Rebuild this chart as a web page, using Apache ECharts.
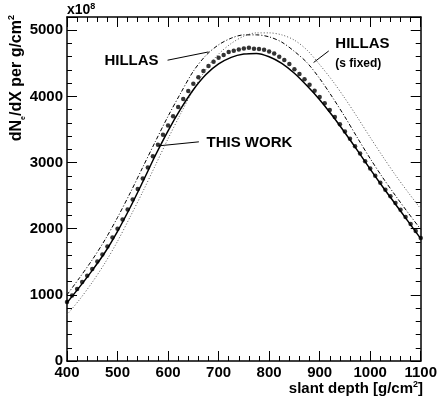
<!DOCTYPE html>
<html>
<head>
<meta charset="utf-8">
<script src="https://cdn.jsdelivr.net/npm/echarts@6/dist/echarts.min.js"></script>
<style>
html, body { margin: 0; padding: 0; background: #fff; }
#chart { width: 440px; height: 402px; }
</style>
</head>
<body>
<div id="chart"></div>
<script>
// slant depth [g/cm2] for the curves
var depths = [400, 425, 450, 475, 500, 525, 550, 575, 600, 625, 650, 675, 700, 725, 750,
	775, 800, 825, 850, 875, 900, 925, 950, 975, 1000, 1025, 1050, 1075, 1100];
// dN/dX in units of 1e8
var thisWork = [880, 1120, 1370, 1640, 1960, 2320, 2710, 3110, 3480, 3810, 4100, 4330, 4490, 4590, 4640,
	4650, 4600, 4500, 4350, 4160, 3950, 3710, 3450, 3180, 2900, 2630, 2370, 2110, 1850];
var hillas = [1000, 1260, 1530, 1830, 2170, 2540, 2930, 3320, 3700, 4050, 4380, 4620, 4780, 4880, 4930,
	4930, 4900, 4820, 4680, 4510, 4270, 3990, 3690, 3370, 3060, 2770, 2500, 2240, 1990];
var hillasFixed = [700, 930, 1190, 1480, 1810, 2180, 2560, 2960, 3360, 3740, 4100, 4410, 4640, 4800, 4910,
	4960, 4960, 4930, 4850, 4700, 4480, 4240, 3970, 3680, 3380, 3090, 2810, 2550, 2300];

// simulated shower points
var pointDepths = [400, 410, 420, 430, 440, 450, 460, 470, 480, 490, 500, 510, 520, 530, 540, 550,
	560, 570, 580, 590, 600, 610, 620, 630, 640, 650, 660, 670, 680, 690, 700, 710, 720, 730, 740, 750,
	760, 770, 780, 790, 800, 810, 820, 830, 840, 850, 860, 870, 880, 890, 900, 910, 920, 930, 940, 950,
	960, 970, 980, 990, 1000, 1010, 1020, 1030, 1040, 1050, 1060, 1070, 1080, 1090, 1100];
var pointValues = [890, 990, 1090, 1195, 1290, 1390, 1505, 1610, 1730, 1865, 2000, 2140, 2290, 2440, 2600, 2760,
	2925, 3095, 3270, 3420, 3560, 3700, 3840, 3960, 4080, 4190, 4290, 4385, 4460, 4525, 4585, 4625, 4670, 4690, 4710, 4725,
	4735, 4720, 4715, 4705, 4680, 4650, 4600, 4550, 4490, 4410, 4340, 4260, 4175, 4085, 3990, 3895, 3795, 3690, 3580, 3470,
	3360, 3245, 3135, 3020, 2910, 2800, 2695, 2590, 2490, 2390, 2285, 2175, 2070, 1965, 1860];

var xTicks = [400, 500, 600, 700, 800, 900, 1000, 1100];
var yTicks = [0, 1000, 2000, 3000, 4000, 5000];

function pairs(xs, ys){
	var out = [];
	for(var i = 0; i < xs.length; i++){
		out.push([xs[i], ys[i]]);
	}
	return out;
}

var FONT = '"Liberation Sans", Arial, Helvetica, sans-serif';
var theChart = echarts.init(document.getElementById('chart'), null, {renderer: 'canvas'});

function axisX(pos, showLabel){
	return {
		type: 'value', position: pos, min: xTicks[0], max: xTicks[xTicks.length - 1], interval: 100,
		axisLine: {show: true, onZero: false, lineStyle: {color: '#000', width: 1.5}},
		axisTick: {show: true, inside: true, length: 10, lineStyle: {color: '#000', width: 1}},
		minorTick: {show: true, splitNumber: 5, length: 5, lineStyle: {color: '#000', width: 1}},
		splitLine: {show: false},
		axisLabel: {
			show: showLabel, color: '#000', fontFamily: FONT, fontWeight: 'bold', fontSize: 15, margin: 4,
			formatter: function(v){ return String(v); }
		}
	};
}
function axisY(pos, showLabel){
	return {
		type: 'value', position: pos, min: 0, max: 5200, interval: 1000,
		axisLine: {show: true, onZero: false, lineStyle: {color: '#000', width: 1.5}},
		axisTick: {show: true, inside: true, length: 10, lineStyle: {color: '#000', width: 1}},
		minorTick: {show: true, splitNumber: 5, length: 5, lineStyle: {color: '#000', width: 1}},
		splitLine: {show: false},
		axisLabel: {
			show: showLabel, color: '#000', fontFamily: FONT, fontWeight: 'bold', fontSize: 15, margin: 4,
			formatter: function(v){ return yTicks.indexOf(v) >= 0 ? String(v) : ''; }
		}
	};
}

var option = {
	animation: false,
	backgroundColor: '#fff',
	grid: {left: 67, right: 16, top: 17, bottom: 41, containLabel: false},
	xAxis: [axisX('bottom', true), axisX('top', false)],
	yAxis: [axisY('left', true), axisY('right', false)],
	series: [
		{
			name: 'HILLAS (s fixed)', type: 'line', data: pairs(depths, hillasFixed), smooth: 0.3,
			showSymbol: false, lineStyle: {color: '#555', width: 1, type: [1, 2]}
		},
		{
			name: 'HILLAS', type: 'line', data: pairs(depths, hillas), smooth: 0.3,
			showSymbol: false, lineStyle: {color: '#000', width: 1, type: [4, 2, 1, 2]}
		},
		{
			name: 'THIS WORK', type: 'line', data: pairs(depths, thisWork), smooth: 0.3,
			showSymbol: false, lineStyle: {color: '#000', width: 1.5}
		},
		{
			name: 'points', type: 'scatter', data: pairs(pointDepths, pointValues),
			symbol: 'circle', symbolSize: 4.5, itemStyle: {color: '#000'}
		}
	]
};
theChart.setOption(option);

// annotations, anchored in data space
var labels = [
	{text: 'HILLAS', at: [474, 4532], size: 15},
	{text: 'HILLAS', at: [931, 4799], size: 15},
	{text: '(s fixed)', at: [931, 4491], size: 12},
	{text: 'THIS WORK', at: [676, 3293], size: 15}
];
var pointers = [
	[[599, 4547], [680, 4672]],
	[[918, 4687], [888, 4512]],
	[[661, 3313], [581, 3252]]
];

function px(p){
	return theChart.convertToPixel({xAxisIndex: 0, yAxisIndex: 0}, p);
}

var graphics = [];
labels.forEach(function(l){
	var p = px(l.at);
	graphics.push({
		type: 'text', x: p[0], y: p[1],
		style: {text: l.text, fill: '#000', font: 'bold ' + l.size + 'px ' + FONT, align: 'left', verticalAlign: 'middle'}
	});
});
pointers.forEach(function(seg){
	var a = px(seg[0]), b = px(seg[1]);
	graphics.push({
		type: 'line', shape: {x1: a[0], y1: a[1], x2: b[0], y2: b[1]},
		style: {stroke: '#000', lineWidth: 1}
	});
});

// axis titles and exponent
graphics.push({
	type: 'text', x: 17, y: 15, rotation: Math.PI / 2,
	style: {
		text: '{a|dN}{s|e}{a|/dX per g/cm}{p|2}', align: 'right', verticalAlign: 'middle',
		rich: {
			a: {fontFamily: FONT, fontWeight: 'bold', fontSize: 16, lineHeight: 20, fill: '#000'},
			s: {fontFamily: FONT, fontWeight: 'bold', fontSize: 7, lineHeight: 20, verticalAlign: 'bottom', fill: '#000'},
			p: {fontFamily: FONT, fontWeight: 'bold', fontSize: 9, lineHeight: 20, verticalAlign: 'top', fill: '#000'}
		}
	}
});
graphics.push({
	type: 'text', x: 423, y: 389,
	style: {
		text: '{a|slant depth [g/cm}{p|2}{a|]}', align: 'right', verticalAlign: 'middle',
		rich: {
			a: {fontFamily: FONT, fontWeight: 'bold', fontSize: 15, lineHeight: 18, fill: '#000'},
			p: {fontFamily: FONT, fontWeight: 'bold', fontSize: 9, lineHeight: 18, verticalAlign: 'top', fill: '#000'}
		}
	}
});
graphics.push({
	type: 'text', x: 67, y: 10,
	style: {
		text: '{a|x10}{p|8}', align: 'left', verticalAlign: 'middle',
		rich: {
			a: {fontFamily: FONT, fontWeight: 'bold', fontSize: 14, lineHeight: 16, fill: '#000'},
			p: {fontFamily: FONT, fontWeight: 'bold', fontSize: 9, lineHeight: 16, verticalAlign: 'top', fill: '#000'}
		}
	}
});

theChart.setOption({graphic: graphics});
</script>
</body>
</html>
